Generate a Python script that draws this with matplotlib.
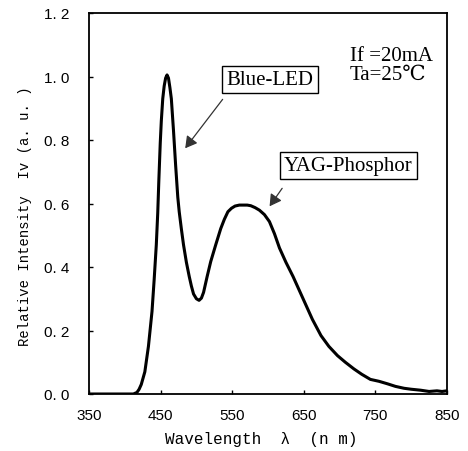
import matplotlib.pyplot as plt
from matplotlib.patches import FancyArrowPatch

# spectrum
wavelength = [350, 400, 412, 417, 420, 423, 428, 433, 438, 441, 444, 446, 447.5, 449.5, 451, 453,
              455, 457, 459, 461, 463, 465, 468, 471, 474, 476, 479, 482, 486, 490, 493, 496, 500,
              503.7, 507, 510, 515, 520, 527, 534, 539, 544, 549, 554, 560, 566, 571, 576, 582,
              588, 595, 602, 609, 616, 625, 635, 643, 651, 662, 674, 685, 697, 708, 720, 731, 743,
              755, 767, 778, 790, 800, 813, 825, 836, 843, 850]
intensity = [0.0, 0.0, 0.0, 0.005, 0.015, 0.03, 0.07, 0.15, 0.26, 0.36, 0.47, 0.57, 0.67, 0.79,
             0.86, 0.93, 0.97, 0.995, 1.005, 0.995, 0.965, 0.93, 0.83, 0.72, 0.62, 0.574, 0.52,
             0.47, 0.415, 0.37, 0.34, 0.315, 0.3, 0.295, 0.302, 0.32, 0.37, 0.417, 0.47, 0.521,
             0.55, 0.574, 0.585, 0.592, 0.595, 0.595, 0.595, 0.593, 0.587, 0.579, 0.565, 0.543,
             0.505, 0.46, 0.415, 0.37, 0.33, 0.29, 0.235, 0.184, 0.15, 0.121, 0.1, 0.079, 0.062,
             0.046, 0.04, 0.032, 0.024, 0.018, 0.015, 0.012, 0.008, 0.01, 0.008, 0.01]

x_ticks = [350, 450, 550, 650, 750, 850]
y_ticks = [0.0, 0.2, 0.4, 0.6, 0.8, 1.0, 1.2]
y_tick_labels = ['0. 0', '0. 2', '0. 4', '0. 6', '0. 8', '1. 0', '1. 2']

serif = ['Liberation Serif', 'DejaVu Serif', 'Noto Sans CJK JP']
mono = ['Liberation Mono', 'DejaVu Sans Mono']

fig = plt.figure(figsize=(4.68, 4.52), dpi=100)
ax = fig.add_axes([89 / 468, 57 / 452, 358 / 468, 381 / 452])

ax.plot(wavelength, intensity, color='black', lw=2.2)

ax.set_xlim(350, 850)
ax.set_ylim(0, 1.2)
ax.set_xticks(x_ticks)
ax.set_xticklabels([str(t) for t in x_ticks], family='Liberation Sans', fontsize=11)
ax.set_yticks(y_ticks)
ax.set_yticklabels(y_tick_labels, family='Liberation Sans', fontsize=11)
ax.tick_params(axis='y', direction='in', length=3, width=1, pad=14)
ax.tick_params(axis='x', direction='in', length=3, width=1, pad=10)
for s in ax.spines.values():
    s.set_linewidth(1.3)

# axis titles
ax.text(0.482, -0.118, 'Wavelength  λ  (n m)', family=mono, fontsize=11.5,
        transform=ax.transAxes, ha='center', va='center')
ax.text(-0.18, 0.47, 'Relative Intensity  Iv (a. u. )', family=mono, fontsize=10,
        transform=ax.transAxes, ha='center', va='center', rotation=90)

# annotations
ax.text(603, 0.99, 'Blue-LED', family=serif, fontsize=15, ha='center', va='center',
        bbox=dict(boxstyle='square,pad=0.2', fc='white', ec='black', lw=1))
ax.add_patch(FancyArrowPatch((539, 0.935), (482, 0.767), arrowstyle='-|>,head_length=7,head_width=4',
                             color='#333333', lw=0.9))
ax.text(712, 0.72, 'YAG-Phosphor', family=serif, fontsize=15, ha='center', va='center',
        bbox=dict(boxstyle='square,pad=0.2', fc='white', ec='black', lw=1))
ax.add_patch(FancyArrowPatch((622, 0.655), (600, 0.584), arrowstyle='-|>,head_length=7,head_width=4',
                             color='#333333', lw=0.9))

ax.text(714, 1.095, 'If =20mA\nTa=25℃', family=serif, fontsize=15, ha='left', va='top',
        linespacing=1.0)

fig.savefig('out.png', dpi=100)
